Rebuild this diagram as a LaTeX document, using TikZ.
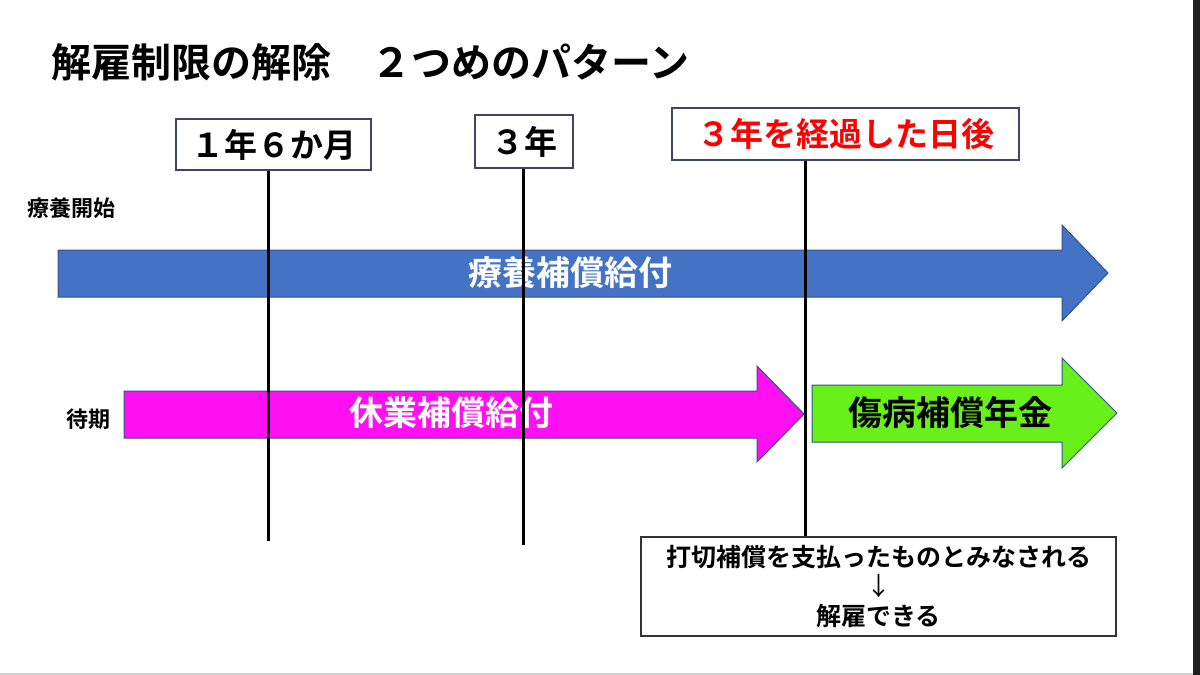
\documentclass[tikz,border=0pt]{standalone}
\usepackage{fontspec}
\setmainfont{Noto Sans CJK JP}[BoldFont={Noto Sans CJK JP Bold}]
\definecolor{cureblue}{RGB}{68,114,196}
\definecolor{leavemag}{RGB}{255,16,240}
\definecolor{pensiongreen}{RGB}{104,240,26}
\definecolor{edgeblue}{RGB}{47,82,143}
\definecolor{boxline}{RGB}{60,70,100}
\tikzset{
  band/.style={draw=edgeblue,line width=1pt},
  yearbox/.style={draw=boxline,line width=1.5pt,fill=white,inner sep=0pt,font=\fontsize{33}{33}\selectfont\bfseries},
  bandtext/.style={inner sep=0pt,font=\fontsize{34}{34}\selectfont\bfseries},
  sidetext/.style={inner sep=0pt,anchor=west,font=\fontsize{22}{22}\selectfont\bfseries},
  vline/.style={line width=3pt}
}
\begin{document}
\begin{tikzpicture}[x=1pt,y=-1pt]
\useasboundingbox (0,0) rectangle (1200,675);
\fill[black!88] (1193,0) rectangle (1200,675);
\fill[black!18] (0,673) rectangle (1193,675);

\node[anchor=west,inner sep=0pt,font=\fontsize{40}{40}\selectfont\bfseries] (title) at (51,62) {解雇制限の解除　２つめのパターン};
\node[sidetext] (start) at (27,208) {療養開始};
\node[sidetext] (wait) at (66,419) {待期};

\draw[band,fill=cureblue] (58,250) -- (1062,250) -- (1062,225) -- (1108,273) -- (1062,321) -- (1062,297) -- (58,297) -- cycle;
\draw[band,fill=leavemag] (124,391) -- (757,391) -- (757,366) -- (804,414) -- (757,462) -- (757,438) -- (124,438) -- cycle;
\draw[band,fill=pensiongreen] (812,385) -- (1062,385) -- (1062,358) -- (1117,413) -- (1062,468) -- (1062,442) -- (812,442) -- cycle;
\node[bandtext,white] (cure) at (570,273) {療養補償給付};
\node[bandtext,white] (leave) at (451,413) {休業補償給付};
\node[bandtext] (pension) at (950,413) {傷病補償年金};

\node[yearbox,minimum width=195pt,minimum height=51pt] (y1h) at (273.5,144.5) {１年６か月};
\node[yearbox,minimum width=98pt,minimum height=53pt] (y3) at (524,141.5) {３年};
\node[yearbox,minimum width=347pt,minimum height=52pt,text=red] (y3after) at (845.5,134) {３年を経過した日後};
\node[draw=black!80,line width=1.5pt,minimum width=475pt,minimum height=99pt,inner sep=0pt,align=center,
  font=\fontsize{25}{29.5}\selectfont\bfseries] (dismiss) at (878.5,586.5) {打切補償を支払ったものとみなされる\\{\mdseries ↓}\\解雇できる};

\coordinate (e1) at (268,541);
\coordinate (e3) at (523,545);
\draw[vline] (e1 |- y1h.south) -- (e1);
\draw[vline] (e3 |- y3.south) -- (e3);
\draw[vline] (805,0 |- y3after.south) -- (805,0 |- dismiss.north);
\end{tikzpicture}
\end{document}
